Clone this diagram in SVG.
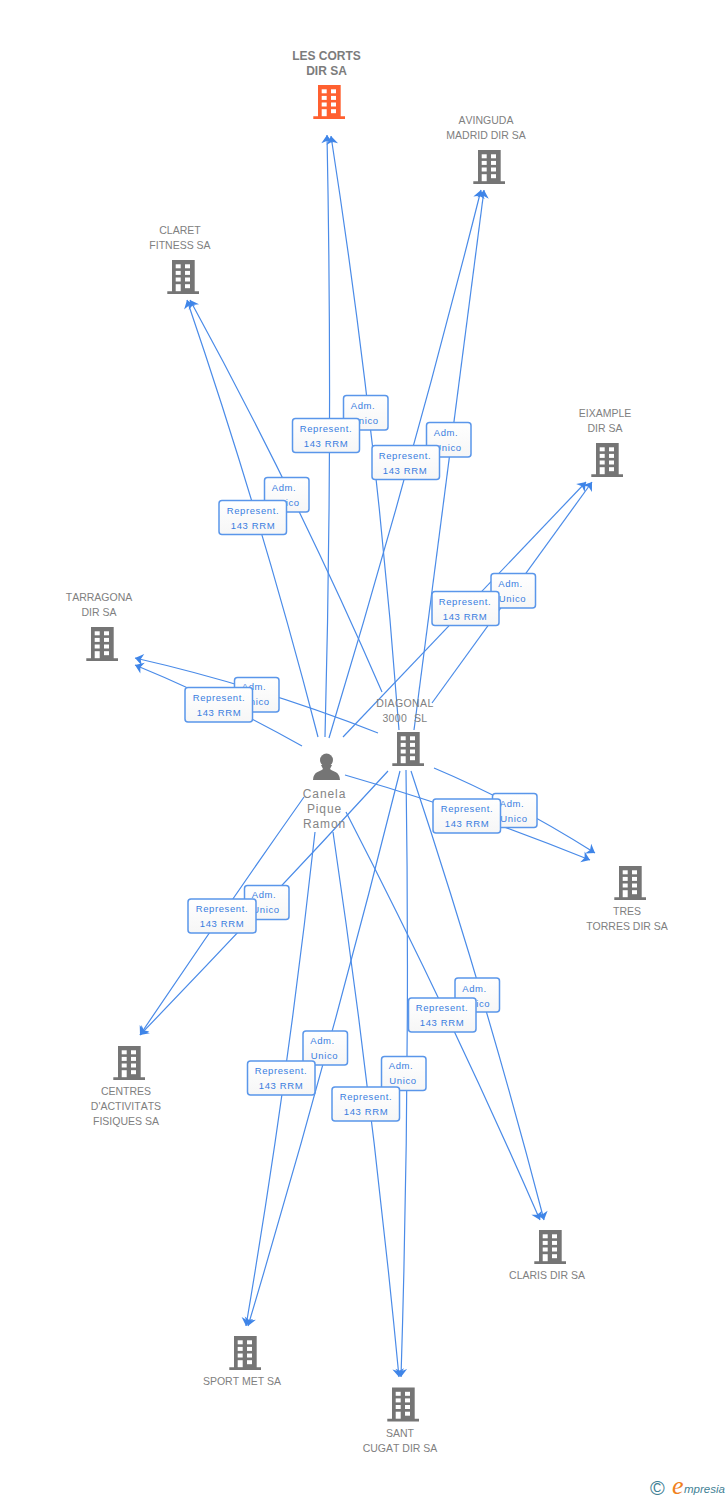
<svg xmlns="http://www.w3.org/2000/svg" width="728" height="1500" viewBox="0 0 728 1500">
<style>
text{font-family:"Liberation Sans",Arial,sans-serif}
.n{font-size:10.500px;fill:#808080;text-anchor:middle;font-kerning:none}
.t{font-size:12px;font-weight:bold;fill:#7c7c7c;text-anchor:middle}
.p{font-size:12px;fill:#858585;text-anchor:middle;letter-spacing:.9px}
.c{fill:none;stroke:#4a8be8;stroke-width:1.2;marker-end:url(#a)}
.b{fill:url(#f);stroke:#5a96ea;stroke-width:1.5}
.l{font-size:9.500px;fill:#3a7de0;text-anchor:middle;letter-spacing:.6px}
.g{fill:#757575}.w{fill:#fff}.o{fill:#ff6030}
</style>
<defs>
<linearGradient id="f" x1="0" y1="0" x2="0" y2="1"><stop offset="0" stop-color="#fff"/><stop offset="1" stop-color="#f6f6f6"/></linearGradient>
<marker id="a" markerUnits="userSpaceOnUse" markerWidth="14" markerHeight="14" refX="9" refY="6" orient="auto" viewBox="0 0 12 12"><path d="M9,6 L2,1 L4,6 L2,11Z" fill="#3f85e8"/></marker>
<g id="w"><rect x="3.700" y="4.300" width="5" height="4"/><rect x="13" y="4.300" width="5" height="4"/><rect x="3.700" y="10.900" width="5" height="4"/><rect x="13" y="10.900" width="5" height="4"/><rect x="3.700" y="17.500" width="5" height="4"/><rect x="13" y="17.500" width="5" height="4"/><rect x="3.700" y="24.200" width="5" height="7"/><rect x="13" y="24.200" width="5" height="4"/></g>
<g id="h"><path d="M0,0H22.700V31.300H27V34H-4.700V31.300H0Z"/><use href="#w" class="w"/></g>
</defs>
<g id="connectors">
<path class="c" d="M325,737Q333,436 327,135"/>
<path class="c" d="M399,730Q377,433 331,136"/>
<path class="c" d="M329,738Q412,464 481,190"/>
<path class="c" d="M414,730Q449,460 484,190"/>
<path class="c" d="M318,737Q261.500,518 187,300"/>
<path class="c" d="M382,692Q297,496 190,300"/>
<path class="c" d="M343,737L586,482"/>
<path class="c" d="M432,703L592,482"/>
<path class="c" d="M302,746Q218,699 135,665"/>
<path class="c" d="M378,733Q256.500,685.500 135,658"/>
<path class="c" d="M345,775Q467,810 590,860"/>
<path class="c" d="M434,768Q514.500,802 595,853"/>
<path class="c" d="M304,797Q220,916 140,1035"/>
<path class="c" d="M388,771Q267,903 140,1035"/>
<path class="c" d="M346,812Q451,1016 540,1220"/>
<path class="c" d="M411,771Q485.500,995 544,1220"/>
<path class="c" d="M333,832Q373,1104 399,1377"/>
<path class="c" d="M406,770Q410.500,1073 401,1377"/>
<path class="c" d="M315,832Q288,1078 246,1326"/>
<path class="c" d="M400,771Q331,1048 248,1326"/>
</g>
<g id="labels-adm">
<g><rect class="b" x="343.500" y="395.500" width="44.500" height="34.500" rx="3"/><text class="l" x="363" y="409">Adm.</text><text class="l" x="365" y="424">Unico</text></g>
<g><rect class="b" x="426.500" y="422.500" width="44.500" height="34.500" rx="3"/><text class="l" x="446" y="436">Adm.</text><text class="l" x="448" y="451">Unico</text></g>
<g><rect class="b" x="264.500" y="477.500" width="44.500" height="34.500" rx="3"/><text class="l" x="284" y="491">Adm.</text><text class="l" x="286" y="506">Unico</text></g>
<g><rect class="b" x="491" y="573.500" width="44.500" height="34.500" rx="3"/><text class="l" x="510.500" y="587">Adm.</text><text class="l" x="512.500" y="602">Unico</text></g>
<g><rect class="b" x="234.500" y="677.500" width="44.500" height="34.500" rx="3"/><text class="l" x="254" y="690">Adm.</text><text class="l" x="256" y="705">Unico</text></g>
<g><rect class="b" x="492.500" y="793.500" width="44.500" height="34" rx="3"/><text class="l" x="512" y="807">Adm.</text><text class="l" x="514" y="822">Unico</text></g>
<g><rect class="b" x="244.500" y="885.500" width="44.500" height="34" rx="3"/><text class="l" x="264" y="898">Adm.</text><text class="l" x="266" y="913">Unico</text></g>
<g><rect class="b" x="455" y="978" width="44.500" height="34" rx="3"/><text class="l" x="474.500" y="992">Adm.</text><text class="l" x="476.500" y="1007">Unico</text></g>
<g><rect class="b" x="303" y="1031" width="44.500" height="34" rx="3"/><text class="l" x="322.500" y="1044">Adm.</text><text class="l" x="324.500" y="1059">Unico</text></g>
<g><rect class="b" x="381.500" y="1056.500" width="44.500" height="34" rx="3"/><text class="l" x="401" y="1069">Adm.</text><text class="l" x="403" y="1084">Unico</text></g>
</g>
<g id="labels-rep">
<g><rect class="b" x="292.500" y="418.500" width="67" height="34" rx="3"/><text class="l" x="326" y="432">Represent.</text><text class="l" x="326" y="447">143 RRM</text></g>
<g><rect class="b" x="372" y="445.500" width="67.500" height="34" rx="3"/><text class="l" x="405" y="459">Represent.</text><text class="l" x="405" y="474">143 RRM</text></g>
<g><rect class="b" x="219" y="500.500" width="67.500" height="34" rx="3"/><text class="l" x="253" y="514">Represent.</text><text class="l" x="253" y="529">143 RRM</text></g>
<g><rect class="b" x="432" y="591.500" width="67" height="34" rx="3"/><text class="l" x="465" y="605">Represent.</text><text class="l" x="465" y="620">143 RRM</text></g>
<g><rect class="b" x="185" y="687.500" width="67.500" height="34.500" rx="3"/><text class="l" x="219" y="701">Represent.</text><text class="l" x="219" y="716">143 RRM</text></g>
<g><rect class="b" x="433" y="799" width="67.500" height="34" rx="3"/><text class="l" x="467" y="812">Represent.</text><text class="l" x="467" y="827">143 RRM</text></g>
<g><rect class="b" x="188" y="899" width="68" height="34" rx="3"/><text class="l" x="222" y="912">Represent.</text><text class="l" x="222" y="927">143 RRM</text></g>
<g><rect class="b" x="408.500" y="998" width="67.500" height="34" rx="3"/><text class="l" x="442" y="1011">Represent.</text><text class="l" x="442" y="1026">143 RRM</text></g>
<g><rect class="b" x="247.500" y="1061" width="67.500" height="34" rx="3"/><text class="l" x="281" y="1074">Represent.</text><text class="l" x="281" y="1089">143 RRM</text></g>
<g><rect class="b" x="332" y="1087" width="67.500" height="34" rx="3"/><text class="l" x="366" y="1100">Represent.</text><text class="l" x="366" y="1115">143 RRM</text></g>
</g>
<g id="n-lescorts"><text class="t" x="326.500" y="59.500">LES CORTS</text><text class="t" x="326.500" y="74.500">DIR SA</text><use href="#h" class="o" x="318" y="85"/></g>
<g id="n-avinguda"><text class="n" x="486" y="124">AVINGUDA</text><text class="n" x="486" y="139">MADRID DIR SA</text><use href="#h" class="g" x="478" y="150"/></g>
<g id="n-claret"><text class="n" x="180" y="234">CLARET</text><text class="n" x="180" y="249">FITNESS SA</text><use href="#h" class="g" x="172" y="260"/></g>
<g id="n-eixample"><text class="n" x="605" y="417">EIXAMPLE</text><text class="n" x="605" y="432">DIR SA</text><use href="#h" class="g" x="596" y="443"/></g>
<g id="n-tarragona"><text class="n" x="99" y="601">TARRAGONA</text><text class="n" x="99" y="616">DIR SA</text><use href="#h" class="g" x="91" y="627"/></g>
<g id="n-diagonal"><text class="n" x="405" y="707" style="letter-spacing:.4px">DIAGONAL</text><text class="n" x="405" y="722" style="letter-spacing:.4px;white-space:pre">3000  SL</text><use href="#h" class="g" x="397" y="732"/></g>
<g id="n-person"><circle class="g" cx="326.500" cy="760" r="6.500"/><path class="g" d="M321,765L323,769C320,772 313.500,771 313,780H340C339.500,771 333,772 330,769L332,765Z"/><text class="p" x="324.500" y="798">Canela</text><text class="p" x="324.500" y="813">Pique</text><text class="p" x="324.500" y="828">Ramon</text></g>
<g id="n-tres"><use href="#h" class="g" x="619" y="866"/><text class="n" x="627" y="915">TRES</text><text class="n" x="627" y="930">TORRES DIR SA</text></g>
<g id="n-centres"><use href="#h" class="g" x="118" y="1046"/><text class="n" x="126" y="1095">CENTRES</text><text class="n" x="126" y="1110">D'ACTIVITATS</text><text class="n" x="126" y="1125">FISIQUES SA</text></g>
<g id="n-claris"><use href="#h" class="g" x="539" y="1230"/><text class="n" x="547" y="1279">CLARIS DIR SA</text></g>
<g id="n-sport"><use href="#h" class="g" x="234" y="1336"/><text class="n" x="242" y="1385">SPORT MET SA</text></g>
<g id="n-sant"><use href="#h" class="g" x="392" y="1387.500"/><text class="n" x="400" y="1437">SANT</text><text class="n" x="400" y="1452">CUGAT DIR SA</text></g>
<g id="logo"><text x="650" y="1495" style="font-size:20px;fill:#3f7f95">©</text><text x="672" y="1494" style="font-family:'Liberation Serif',serif;font-style:italic;font-size:26px;fill:#f08020">e</text><text x="684" y="1493" style="font-style:italic;font-size:11.500px;fill:#3f7f95">mpresia</text></g>
</svg>
